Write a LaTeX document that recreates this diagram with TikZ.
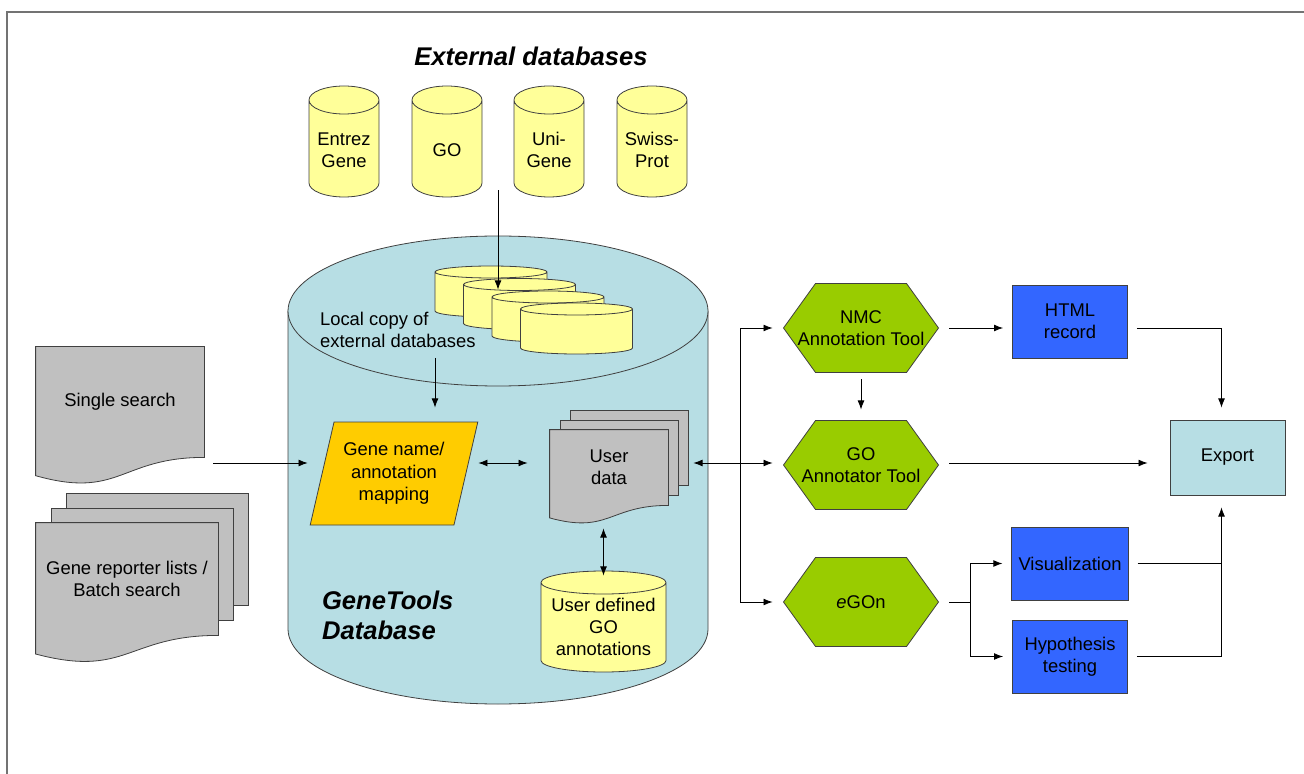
\documentclass[tikz,border=0pt]{standalone}
\usepackage{fontspec}
\setmainfont{Liberation Sans}
\usetikzlibrary{shapes,arrows.meta,calc,backgrounds}

\definecolor{dbblue}{RGB}{183,222,228}
\definecolor{dbyellow}{RGB}{255,255,153}
\definecolor{docgray}{RGB}{192,192,192}
\definecolor{maporange}{RGB}{255,204,0}
\definecolor{toolgreen}{RGB}{153,204,0}
\definecolor{outblue}{RGB}{51,102,255}

% document page outline (flow chart document) around a text node
\newcommand{\docpath}[1]{(#1.north west) -- (#1.north east) -- (#1.south east)
  .. controls (#1.south) and ($(#1.north)!1.38!(#1.south)$) .. ($(#1.north west)!1.165!(#1.south west)$) -- cycle}

\tikzset{
  arr/.style={-{Latex[length=1.6mm]}},
  arrs/.style={{Latex[length=1.6mm]}-{Latex[length=1.6mm]}},
  outerframe/.style={draw=black!55, line width=1pt},
  heading/.style={font=\fontsize{12.8}{15}\selectfont\bfseries\itshape},
  % cylinder drawn inside a plain node, #1 = half height of the end ellipse
  cyl/.style={rectangle, inner sep=0pt, align=center, path picture={
    \filldraw[fill=dbyellow, draw=black!75]
      let \p1=(path picture bounding box.south west), \p2=(path picture bounding box.north east),
          \n1={(\x2-\x1)/2-0.5pt} in
      (\x1+0.5pt,\y2-0.5pt-#1) -- (\x1+0.5pt,\y1+0.5pt+#1)
      arc[start angle=180, end angle=360, x radius=\n1, y radius=#1]
      -- (\x2-0.5pt,\y2-0.5pt-#1)
      arc[start angle=0, end angle=180, x radius=\n1, y radius=#1] -- cycle
      (\x1+0.5pt,\y2-0.5pt-#1)
      arc[start angle=180, end angle=360, x radius=\n1, y radius=#1];}},
  extdb/.style={cyl=7pt, minimum width=36pt, minimum height=56.5pt},
  localdb/.style={cyl=3pt, minimum width=57pt, minimum height=26.5pt},
  userdb/.style={cyl=5.75pt, minimum width=63.5pt, minimum height=51.5pt},
  bigdb/.style={fill=dbblue, draw=black!75},
  mapbox/.style={trapezium, trapezium left angle=72, trapezium right angle=108, trapezium stretches=true,
    draw=black!75, fill=maporange, minimum width=84pt, minimum height=51.5pt, inner sep=0pt, align=center},
  doctext/.style={minimum width=84pt, minimum height=55pt, inner sep=0pt, align=center},
  docfill/.style={fill=docgray, draw=black!75},
  page/.style={rectangle, fill=docgray, draw=black!75, inner sep=0pt},
  tool/.style={minimum width=79pt, minimum height=46pt, inner sep=0pt, align=center,
    path picture={\filldraw[fill=toolgreen, draw=black!75]
      ([xshift=.75pt]path picture bounding box.west)
      -- ([xshift=16.75pt, yshift=-.75pt]path picture bounding box.north west)
      -- ([xshift=-16.75pt, yshift=-.75pt]path picture bounding box.north east)
      -- ([xshift=-.75pt]path picture bounding box.east)
      -- ([xshift=-16.75pt, yshift=.75pt]path picture bounding box.south east)
      -- ([xshift=16.75pt, yshift=.75pt]path picture bounding box.south west) -- cycle;}},
  outbox/.style={rectangle, draw=black!75, fill=outblue, minimum width=57.5pt, minimum height=36.5pt, align=center},
  exportbox/.style={rectangle, draw=black!75, fill=dbblue, minimum width=57.5pt, minimum height=37.5pt}
}

\begin{document}
\begin{tikzpicture}[x=0.5pt, y=-0.5pt, font=\fontsize{9.2}{11.2}\selectfont]
\useasboundingbox (0,0) rectangle (1304,774);
\draw[outerframe] (7,774) -- (7,12) -- (1304,12);

% external databases
\node[heading] (ext) at (531,56) {External databases};
\node[extdb] (entrez) at (344,141.5) {\rule{0pt}{15pt}Entrez\\Gene};
\node[extdb] (go) at (447,141.5) {\rule{0pt}{15pt}GO};
\node[extdb] (unigene) at (549,141.5) {\rule{0pt}{15pt}Uni-\\Gene};
\node[extdb] (swissprot) at (652,141.5) {\rule{0pt}{15pt}Swiss-\\Prot};

% GeneTools database
\begin{pgfonlayer}{background}
\filldraw[bigdb] (288,311) -- (288,629) arc[start angle=180, end angle=360, x radius=105pt, y radius=37.5pt] -- (708,311) -- cycle;
\filldraw[bigdb] (498,311) ellipse [x radius=105pt, y radius=37.5pt];
\end{pgfonlayer}
\node[heading, anchor=west, align=left] (gtdb) at (315,615) {GeneTools\\Database};
\node[anchor=west, align=left] (localtxt) at (313,330) {Local copy of\\external databases};
\node[localdb] (loc1) at (491,291.5) {};
\node[localdb] (loc2) at (519.5,304) {};
\node[localdb] (loc3) at (548,316.5) {};
\node[localdb] (loc4) at (576.5,328.5) {};
\node[mapbox] (map) at (394,473.5) {Gene name/\\annotation\\mapping};
\node[doctext, minimum width=59pt, minimum height=37.5pt] (userdata) at (609,467.5) {User\\data};
\node[userdb] (userdef) at (603.5,621.5) {\rule{0pt}{12pt}User defined\\GO\\annotations};

% search input
\node[doctext] (single) at (120,402) {Single search};
\node[doctext, minimum width=91pt, minimum height=56pt] (batch) at (127,579) {Gene reporter lists /\\Batch search};

\begin{pgfonlayer}{background}
\node[page, minimum width=91pt, minimum height=56pt] (batch3) at ([shift={(30,-30)}]batch) {};
\node[page, minimum width=91pt, minimum height=56pt] (batch2) at ([shift={(15,-15)}]batch) {};
\filldraw[docfill] \docpath{batch};
\filldraw[docfill] \docpath{single};
\node[page, minimum width=59pt, minimum height=37.5pt] (ud3) at ([shift={(20,-20)}]userdata) {};
\node[page, minimum width=59pt, minimum height=37.5pt] (ud2) at ([shift={(10,-10)}]userdata) {};
\filldraw[docfill] \docpath{userdata};
\end{pgfonlayer}

% tools and output
\node[tool] (nmc) at (861,328) {NMC\\Annotation Tool};
\node[tool] (goat) at (861,465) {GO\\Annotator Tool};
\node[tool] (egon) at (861,602) {\textit{e}GOn};
\node[outbox] (html) at (1070,321.5) {HTML\\record};
\node[outbox] (vis) at (1070,563.5) {Visualization};
\node[outbox] (hyp) at (1070,656.5) {Hypothesis\\testing};
\node[exportbox] (export) at (1227.5,457.5) {Export};

% connectors
\coordinate (row) at (0,463);
\coordinate (feed) at ($(go.south)!0.5!(unigene.south)+(0,-8)$);
\draw[arr] (feed) -- (feed |- loc3.north);
\coordinate (lc) at (435,358);
\draw[arr, shorten >=7pt] (lc) -- (lc |- map.north);
\draw[arr, shorten <=4.5pt, shorten >=1pt] (single.east |- row) -- (map.bottom left corner |- row);
\draw[arrs, shorten >=11pt] (map.top right corner |- row) -- (userdata.west |- row);
\draw[arrs] ([yshift=-11.5pt]userdata.south -| userdef.north) -- ([yshift=-3pt]userdef.north);
\draw[arrs, shorten <=2.5pt, shorten >=4.5pt] (ud3.east |- row) -- (goat.west |- row);
\coordinate (split) at (740,463);
\draw[arr, shorten >=4.5pt] (split) |- (nmc.west);
\draw[arr, shorten >=4.5pt] (split) |- (egon.west);
\draw[arr, shorten <=2.5pt, shorten >=4.5pt] (nmc.south) -- (goat.north);
\draw[arr, shorten <=4.5pt, shorten >=4.5pt] (nmc.east) -- (nmc.east -| html.west);
\draw[arr, shorten <=4.5pt, shorten >=6pt] (html.east |- nmc.east) -| ([xshift=-3pt]export.north);
\draw[arr, shorten <=4.5pt, shorten >=11pt] (goat.east |- row) -- (export.west |- row);
\coordinate (fork) at (970,602);
\draw[shorten <=4.5pt] (egon.east) -- (fork);
\draw[arr, shorten >=4.5pt] (fork) |- (vis.west);
\draw[arr, shorten >=4.5pt] (fork) |- (hyp.west);
\coordinate (join) at ([xshift=-3pt]export.south);
\draw[shorten <=4.5pt] (vis.east) -- (vis.east -| join);
\draw[arr, shorten <=4.5pt, shorten >=6pt] (hyp.east) -| (join);
\end{tikzpicture}
\end{document}
